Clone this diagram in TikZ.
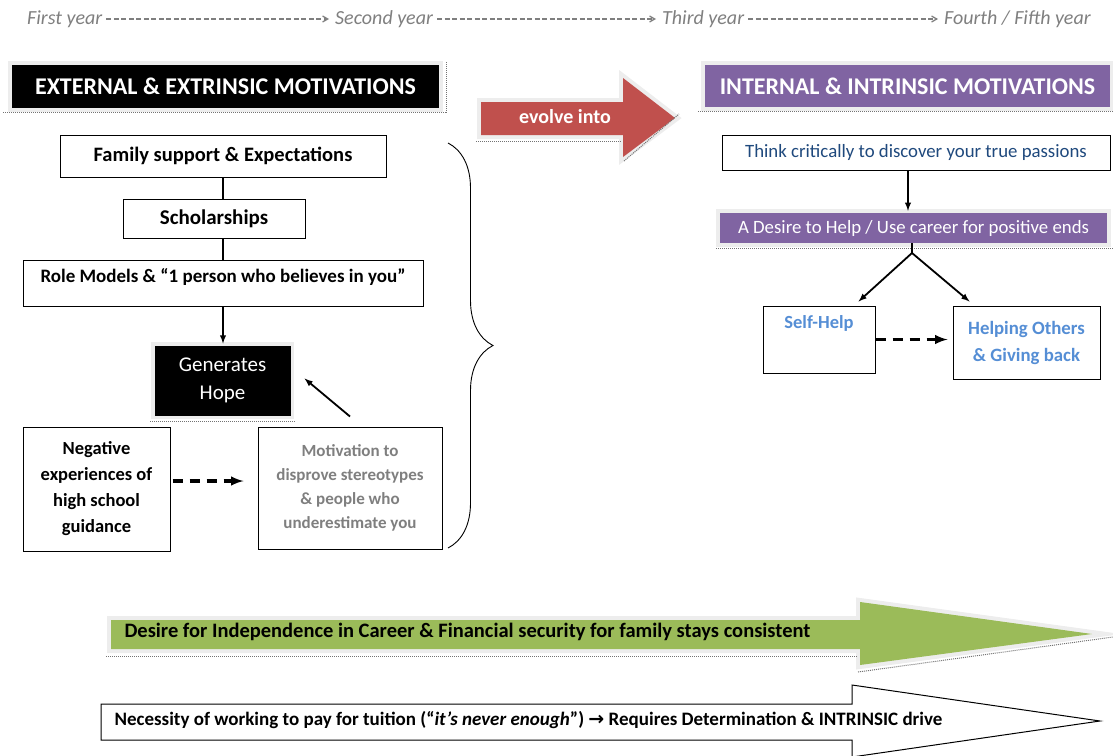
\documentclass[tikz,border=0pt]{standalone}
\usepackage{fontspec}
\setmainfont{Carlito}
\newfontfamily\arrowfont{DejaVu Sans}
\usepackage{tikz}
\usetikzlibrary{arrows}
\usetikzlibrary{decorations.pathreplacing}
\definecolor{evolvered}{HTML}{C0504D}
\definecolor{intpurple}{HTML}{8064A2}
\definecolor{staygreen}{HTML}{9BBB59}
\definecolor{thinkblue}{HTML}{1F497D}
\definecolor{helpblue}{HTML}{558ED5}
\definecolor{motgray}{HTML}{7F7F7F}
\definecolor{glowgray}{HTML}{EDEDED}

\begin{document}
\begin{tikzpicture}[x=1pt,y=-1pt,
    box/.style={draw,line width=1pt,fill=white,align=center,inner sep=0pt},
    glow/.style={preaction={draw=glowgray,line width=8pt}},
    header/.style={glow,align=center,inner sep=0pt,text=white,
      font=\fontsize{24}{28}\selectfont\bfseries},
    year/.style={text=motgray,inner sep=4pt,font=\fontsize{20}{24}\selectfont\itshape},
    yearline/.style={draw=motgray,line width=1.3pt,dash pattern=on 5pt off 2.5pt,
      -angle 60,shorten >=2pt},
    shadowline/.style={draw=black!55,line width=1pt,densely dotted},
    dashedarrow/.style={line width=3.2pt,dash pattern=on 10pt off 7pt,-latex},
    solidarrow/.style={line width=1.8pt,-latex}]
  \useasboundingbox (0,0) rectangle (1113,755);

  % the years along the top
  \node[year,anchor=west] (firstyr) at (23,19) {First year};
  \node[year,anchor=west] (secondyr) at (331,19) {Second year};
  \node[year,anchor=west] (thirdyr) at (658,19) {Third year};
  \node[year,anchor=west] (fourthyr) at (940,19) {Fourth / Fifth year};
  \draw[yearline] (firstyr) -- (secondyr);
  \draw[yearline] (secondyr) -- (thirdyr);
  \draw[yearline] (thirdyr) -- (fourthyr);

  % the two headings and the arrow between them
  \node[header,fill=black,minimum width=427pt,minimum height=43pt] (exthead) at (225.5,86.5)
    {EXTERNAL \& EXTRINSIC MOTIVATIONS};
  \draw[shadowline] (3,112) -- (446,112) -- (446,62);
  \node[header,fill=intpurple,minimum width=405pt,minimum height=42pt] (inthead) at (907.5,86)
    {INTERNAL \& INTRINSIC MOTIVATIONS};
  \draw[shadowline] (698,111) -- (1113,111);
  \fill[evolvered,glow] (481,102) -- (623,102) -- (623,78) -- (675,118) -- (623,157)
    -- (623,135) -- (481,135) -- cycle;
  \draw[shadowline] (476,141) -- (622,141);
  \draw[shadowline] (624,161) -- (679,114);
  \node[text=white,font=\fontsize{20}{24}\selectfont\bfseries] (evolve) at (565,117) {evolve into};

  % external side
  \node[box,minimum width=326pt,minimum height=42pt,font=\fontsize{20.5}{24}\selectfont\bfseries]
    (family) at (223,156) {Family support \& Expectations};
  \node[box,minimum width=182pt,minimum height=39pt,font=\fontsize{21}{24}\selectfont\bfseries]
    (schol) at (214,218.5) {Scholarships};
  \node[box,minimum width=400pt,minimum height=46pt,text depth=15pt,
    font=\fontsize{19}{23}\selectfont\bfseries]
    (role) at (223,283) {Role Models \& “1 person who believes in you”};
  \node[box,fill=black,glow,text=white,minimum width=135pt,minimum height=69pt,
    font=\fontsize{21}{28}\selectfont] (hope) at (222.5,380.5) {Generates\\Hope};
  \draw[shadowline] (150,421) -- (296,421);
  \node[box,minimum width=147pt,minimum height=124pt,font=\fontsize{18.5}{26}\selectfont\bfseries]
    (negative) at (96.5,489) {Negative\\experiences of\\high school\\guidance};
  \node[box,minimum width=184pt,minimum height=122pt,text=motgray,
    font=\fontsize{17}{24}\selectfont\bfseries]
    (motivation) at (350,488) {Motivation to\\disprove stereotypes\\\& people who\\underestimate you};

  \draw[line width=1.3pt] (family.south) -- (family.south |- schol.north);
  \draw[line width=1.3pt] (family.south |- schol.south) -- (family.south |- role.north);
  \draw[solidarrow] (family.south |- role.south) -- ([yshift=2pt]family.south |- hope.north);
  \draw[solidarrow] ([yshift=10pt]motivation.north) -- ([xshift=14pt,yshift=2pt]hope.east);
  \draw[dashedarrow] ([yshift=8pt,xshift=2pt]negative.east) -- ([yshift=7pt,xshift=-14pt]motivation.west);

  % brace
  \draw[line width=0.9pt,decorate,decoration={brace,amplitude=45pt}] (448,143) -- (448,548);

  % internal side
  \node[box,minimum width=388pt,minimum height=35pt,text=thinkblue,
    font=\fontsize{18.8}{22}\selectfont] (think) at (916,152.5)
    {Think critically to discover your true passions};
  \node[glow,fill=intpurple,text=white,minimum width=387pt,minimum height=30pt,inner sep=0pt,
    font=\fontsize{18.8}{22}\selectfont] (desire) at (913.5,228)
    {A Desire to Help / Use career for positive ends};
  \draw[shadowline] (716,248) -- (1113,248);
  \node[box,minimum width=112pt,minimum height=67pt,text=helpblue,
    font=\fontsize{18.5}{27}\selectfont\bfseries] (selfhelp) at (819,339.5) {Self-Help\\\strut};
  \node[box,minimum width=147pt,minimum height=73pt,text=helpblue,
    font=\fontsize{18.8}{27}\selectfont\bfseries] (helpothers) at (1026.5,342.5)
    {Helping Others\\\& Giving back};

  \coordinate (split) at (912,253);
  \draw[solidarrow] ([xshift=-8pt]think.south) -- ([xshift=-8pt,yshift=2pt]think.south |- desire.north);
  \draw[line width=1.8pt] (desire.south -| split) -- (split);
  \draw[solidarrow] (split) -- ([xshift=-17pt,yshift=4pt]selfhelp.north east);
  \draw[solidarrow] (split) -- ([xshift=17pt,yshift=4pt]helpothers.north west);
  \draw[dashedarrow] (selfhelp.east) -- ([xshift=-5pt]selfhelp.east -| helpothers.west);

  % the two long arrows at the bottom
  \fill[staygreen,glow] (111,620) -- (860,620) -- (860,602) -- (1092,634) -- (860,665)
    -- (860,649) -- (111,649) -- cycle;
  \draw[shadowline] (106,656) -- (858,656);
  \draw[shadowline] (858,672) -- (1113,637);
  \node[anchor=west,font=\fontsize{20.5}{24}\selectfont\bfseries] (independence) at (121,632)
    {Desire for Independence in Career \& Financial security for family stays consistent};
  \draw[line width=1pt,fill=white] (101,704) -- (852,704) -- (852,685) -- (1100,721)
    -- (852,757) -- (852,740) -- (101,740) -- cycle;
  \node[anchor=west,font=\fontsize{19}{22}\selectfont\bfseries] (tuition) at (111,720)
    {Necessity of working to pay for tuition (“\textit{it’s never enough}”) {\arrowfont\bfseries →} Requires Determination \& INTRINSIC drive};
\end{tikzpicture}
\end{document}
